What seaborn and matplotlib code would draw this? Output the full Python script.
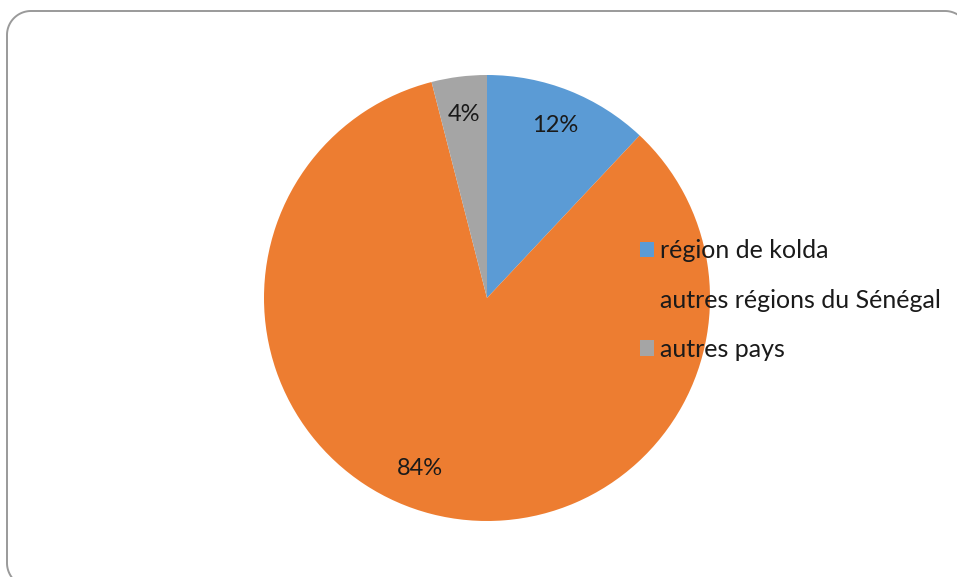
import matplotlib
matplotlib.use("Agg")
import matplotlib.pyplot as plt
import seaborn as sns
import numpy as np

# Origine des élèves
categories = ["région de kolda", "autres régions du Sénégal", "autres pays"]
shares = [12, 84, 4]
colors = ["#5B9BD5", "#ED7D31", "#A5A5A5"]

sns.set_theme(style="white")
plt.rcParams["font.family"] = ["Lato", "DejaVu Sans"]

W, H, DPI = 957, 577, 100
fig = plt.figure(figsize=(W / DPI, H / DPI), dpi=DPI)
fig.patch.set_facecolor("white")


def rounded_outline(x0, y0, x1, y1, r, n=30):
    """Closed outline of a rounded rectangle, as x and y arrays."""
    corners = [(x1 - r, y1 - r, 0), (x0 + r, y1 - r, 90),
               (x0 + r, y0 + r, 180), (x1 - r, y0 + r, 270)]
    xs, ys = [], []
    for cxr, cyr, a0 in corners:
        t = np.deg2rad(np.linspace(a0, a0 + 90, n))
        xs.extend(cxr + r * np.cos(t))
        ys.extend(cyr + r * np.sin(t))
    xs.append(xs[0])
    ys.append(ys[0])
    return np.array(xs), np.array(ys)


# background layer in pixel units for the rounded chart frame
bg = fig.add_axes([0, 0, 1, 1], zorder=0)
bg.set_axis_off()
fx, fy = rounded_outline(7, -10, 969, H - 11, 24)
bg.plot(fx, fy, color="#9a9a9a", linewidth=1.4, solid_joinstyle="round")
bg.set_xlim(0, W)
bg.set_ylim(0, H)

ax = fig.add_axes([0, 0, 1, 1], zorder=1)
ax.set_axis_off()
ax.patch.set_alpha(0)

cx, cy, R = 487, 298, 223
wedges, texts, autotexts = ax.pie(
    shares, colors=colors, startangle=90, counterclock=False,
    radius=1, center=(0, 0), autopct=lambda p: f"{p:.0f}%",
    pctdistance=0.83, textprops=dict(fontsize=17, color="#1a1a1a"),
    wedgeprops=dict(linewidth=0))

ax.set_xlim(-cx / R, (W - cx) / R)
ax.set_ylim(-(H - cy) / R, cy / R)
ax.set_aspect("equal")

# place the large slice's label lower-left, as the layout engine does
ang = np.deg2rad(248.5)
autotexts[1].set_position((0.82 * np.cos(ang), 0.82 * np.sin(ang)))

leg = ax.legend(wedges, categories, loc="center left",
                bbox_to_anchor=(640 / W, 1 - 300 / H),
                bbox_transform=fig.transFigure, frameon=False,
                fontsize=18, handlelength=0.56, handleheight=0.56,
                handletextpad=0.22, labelspacing=1.05, borderpad=0,
                borderaxespad=0)
for t in leg.get_texts():
    t.set_color("#1a1a1a")

fig.savefig("out.png", dpi=DPI, facecolor="white")
